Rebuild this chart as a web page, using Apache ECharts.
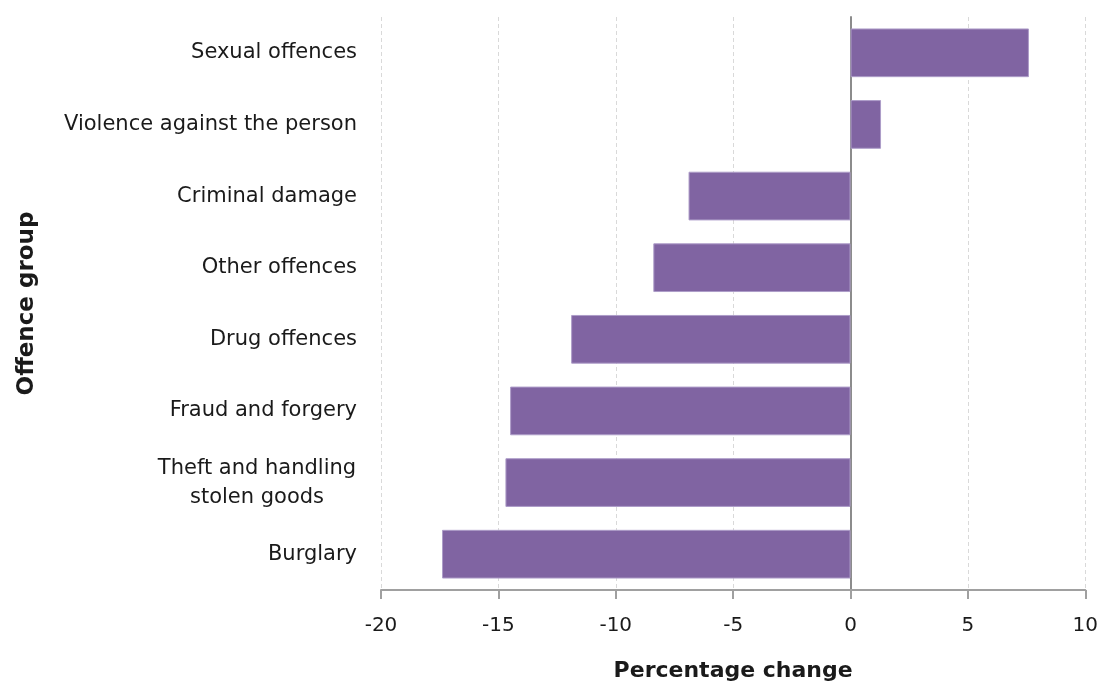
<!DOCTYPE html>
<html>
<head>
<meta charset="utf-8">
<script src="https://cdn.jsdelivr.net/npm/echarts@6/dist/echarts.min.js"></script>
<style>
html,body{margin:0;padding:0;background:#fff;}
#chart{width:1101px;height:687px;}
</style>
</head>
<body>
<div id="chart"></div>
<script>
const categories = [
  "Sexual offences",
  "Violence against the person",
  "Criminal damage",
  "Other offences",
  "Drug offences",
  "Fraud and forgery",
  "Theft and handling\nstolen goods",
  "Burglary"
];
const values = [7.6, 1.3, -6.9, -8.4, -11.9, -14.5, -14.7, -17.4];
const xTicks = { min: -20, max: 10, interval: 5 };

const chart = echarts.init(document.getElementById('chart'));
const font = 'DejaVu Sans';
chart.setOption({
  animation: false,
  backgroundColor: '#ffffff',
  grid: { left: 381, right: 13, top: 17, bottom: 93, containLabel: false },
  xAxis: {
    type: 'value',
    min: xTicks.min, max: xTicks.max, interval: xTicks.interval,
    name: 'Percentage change',
    nameLocation: 'middle',
    nameGap: 70,
    nameTextStyle: { fontFamily: font, fontSize: 22, fontWeight: 'bold', color: '#1a1a1a' },
    axisLine: { show: true, lineStyle: { color: '#a0a0a0', width: 2 } },
    axisTick: { show: true, length: 9, lineStyle: { color: '#a0a0a0', width: 2 } },
    axisLabel: { fontFamily: font, fontSize: 20, color: '#1a1a1a', margin: 26 },
    splitLine: { show: true, lineStyle: { color: '#d9d9d9', type: [4, 3], width: 1 } }
  },
  yAxis: {
    type: 'category',
    data: categories,
    inverse: true,
    name: 'Offence group',
    nameLocation: 'middle',
    nameGap: 342,
    nameRotate: 90,
    nameTextStyle: { fontFamily: font, fontSize: 23, fontWeight: 'bold', color: '#1a1a1a' },
    axisLine: { show: true, onZero: true, lineStyle: { color: '#8c8c8c', width: 2 } },
    axisTick: { show: false },
    axisLabel: {
      fontFamily: font, fontSize: 21, color: '#1a1a1a', margin: 24, lineHeight: 29, align: 'right',
      formatter: function (v) {
        if (v.indexOf('\n') < 0) return v;
        return v.split('\n').map(function (s) { return '{c|' + s + '}'; }).join('\n');
      },
      rich: {
        c: { fontFamily: font, fontSize: 21, color: '#1a1a1a', lineHeight: 29, width: 200, align: 'center' }
      }
    },
    splitLine: { show: false }
  },
  series: [{
    type: 'bar',
    data: values,
    barWidth: '68%',
    itemStyle: { color: '#8064A2', borderColor: '#ad9cc8', borderWidth: 1 }
  }]
});
</script>
</body>
</html>
